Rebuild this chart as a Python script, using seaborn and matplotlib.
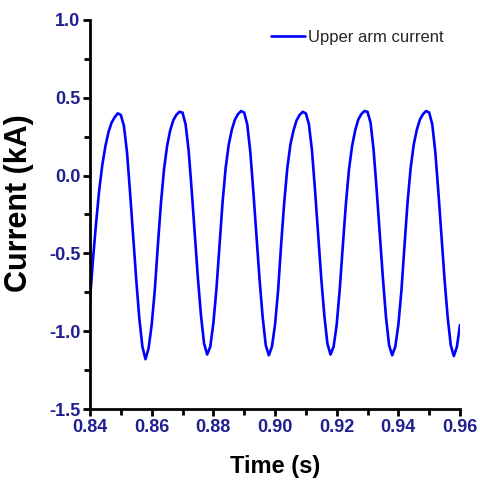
import numpy as np
import pandas as pd
import matplotlib
matplotlib.use("Agg")
import matplotlib.pyplot as plt
from matplotlib.ticker import MultipleLocator, FormatStrFormatter
import seaborn as sns

# Sampling instants of the recorded waveform (1 ms step)
time_s = np.linspace(0.840, 0.960, 121)

# Upper arm current samples (kA)
cycle_0 = [-0.80, -0.53, -0.30, -0.09, 0.07, 0.19, 0.28, 0.34, 0.375, 0.40,
           0.39, 0.32, 0.15, -0.11, -0.39, -0.67, -0.92, -1.10, -1.18]
cycle_1 = [-1.11, -0.96, -0.74, -0.45, -0.18, 0.04, 0.19, 0.29, 0.355, 0.39,
           0.41, 0.405, 0.33, 0.16, -0.10, -0.38, -0.66, -0.90, -1.08, -1.15]
cycle_2 = [-1.10, -0.95, -0.73, -0.45, -0.17, 0.05, 0.20, 0.295, 0.36, 0.395,
           0.415, 0.405, 0.33, 0.15, -0.11, -0.39, -0.67, -0.91, -1.09, -1.155]
cycle_3 = [-1.10, -0.96, -0.74, -0.44, -0.17, 0.05, 0.20, 0.29, 0.355, 0.39,
           0.41, 0.40, 0.33, 0.16, -0.10, -0.38, -0.66, -0.90, -1.08, -1.15]
cycle_4 = [-1.10, -0.96, -0.73, -0.45, -0.18, 0.04, 0.19, 0.29, 0.36, 0.395,
           0.415, 0.41, 0.34, 0.16, -0.10, -0.38, -0.66, -0.91, -1.09, -1.155]
cycle_5 = [-1.10, -0.96, -0.74, -0.45, -0.17, 0.05, 0.20, 0.295, 0.36, 0.395,
           0.415, 0.405, 0.33, 0.15, -0.11, -0.39, -0.67, -0.91, -1.09, -1.16]
cycle_6 = [-1.10, -0.96]

current_ka = cycle_0 + cycle_1 + cycle_2 + cycle_3 + cycle_4 + cycle_5 + cycle_6

x_ticks = [0.84, 0.86, 0.88, 0.90, 0.92, 0.94, 0.96]
y_ticks = [-1.5, -1.0, -0.5, 0.0, 0.5, 1.0]
series_label = "Upper arm current"

df = pd.DataFrame({"Time (s)": time_s, "Current (kA)": current_ka})

sns.set_style("ticks")
plt.rcParams["font.family"] = ["Liberation Sans", "DejaVu Sans"]

fig = plt.figure(figsize=(4.81, 4.86), dpi=100)
ax = fig.add_axes([90 / 481, 77 / 486, 370 / 481, 389 / 486])

sns.lineplot(data=df, x="Time (s)", y="Current (kA)", ax=ax,
             color="#0000ff", linewidth=1.9, label=series_label)

ax.set_xlim(x_ticks[0], x_ticks[-1])
ax.set_ylim(y_ticks[0], y_ticks[-1])
ax.set_xticks(x_ticks)
ax.set_yticks(y_ticks)
ax.xaxis.set_minor_locator(MultipleLocator(0.01))
ax.yaxis.set_minor_locator(MultipleLocator(0.25))
ax.xaxis.set_major_formatter(FormatStrFormatter("%.2f"))
ax.yaxis.set_major_formatter(FormatStrFormatter("%.1f"))

for side in ("top", "right"):
    ax.spines[side].set_visible(False)
for side in ("left", "bottom"):
    ax.spines[side].set_linewidth(2.0)
    ax.spines[side].set_color("black")

navy = "#1f1f8f"
ax.tick_params(which="major", direction="out", length=5, width=2.0,
               color="black", labelcolor=navy, labelsize=13, pad=2)
ax.tick_params(which="minor", direction="out", length=4, width=2.0, color="black")
for lab in ax.get_xticklabels() + ax.get_yticklabels():
    lab.set_fontweight("bold")

ax.set_xlabel("Time (s)", fontsize=17, fontweight="bold", color="black")
ax.set_ylabel("Current (kA)", fontsize=22, fontweight="bold", color="black")
ax.xaxis.set_label_coords(0.5, -0.118)
ax.yaxis.set_label_coords(-0.15, 0.53)

leg = ax.legend(loc="upper left", bbox_to_anchor=(0.49, 0.975), frameon=False,
                fontsize=12, handlelength=2.0, handletextpad=0.2, borderpad=0,
                borderaxespad=0)
for line in leg.get_lines():
    line.set_linewidth(1.9)

fig.savefig("out.png", dpi=100)
